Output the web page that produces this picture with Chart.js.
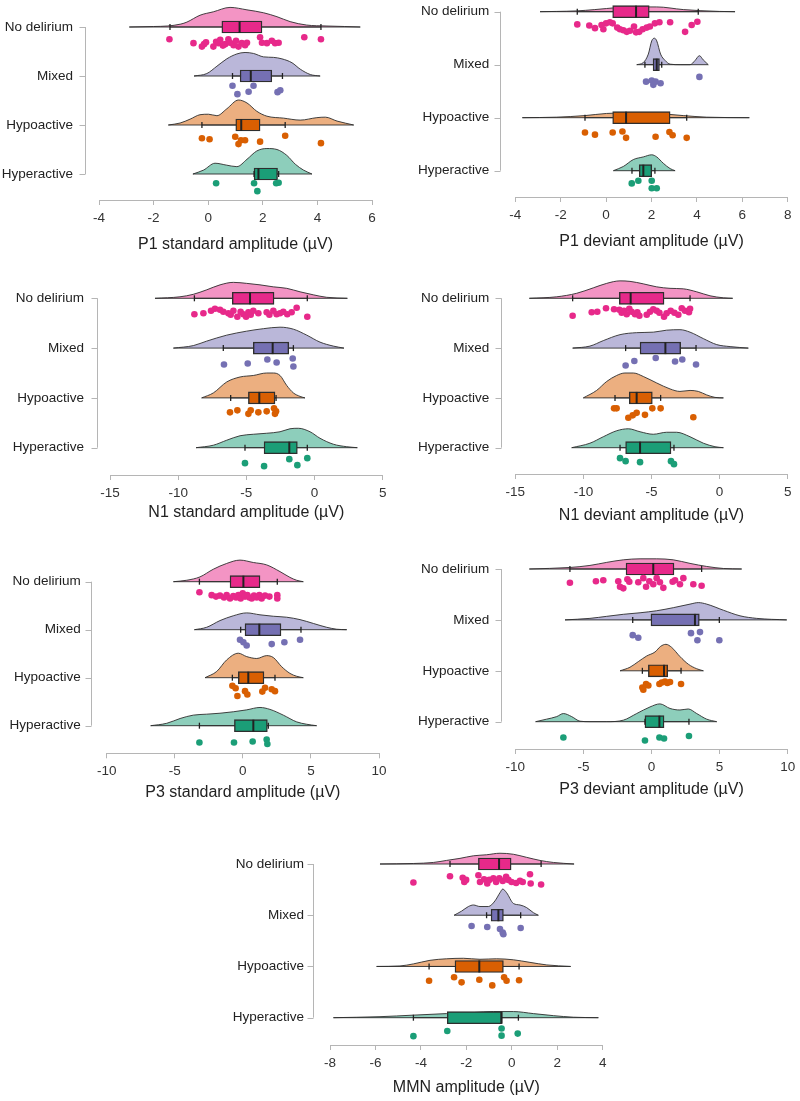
<!DOCTYPE html>
<html><head><meta charset="utf-8">
<script src="https://cdn.jsdelivr.net/npm/chart.js@4.4.1/dist/chart.umd.min.js"></script>
<style>
html,body{margin:0;padding:0;background:#fff;}
#wrap{position:relative;width:800px;height:1101px;overflow:hidden;background:#fff;}
#wrap canvas{position:absolute;}
</style></head>
<body><div id="wrap"></div>
<script>
// ---------- categories & tick labels ----------
const categories = ['No delirium', 'Mixed', 'Hypoactive', 'Hyperactive'];
const p1sXTicks = [-4, -2, 0, 2, 4, 6];
const p1dXTicks = [-4, -2, 0, 2, 4, 6, 8];
const n1sXTicks = [-15, -10, -5, 0, 5];
const n1dXTicks = [-15, -10, -5, 0, 5];
const p3sXTicks = [-10, -5, 0, 5, 10];
const p3dXTicks = [-10, -5, 0, 5, 10];
const mmnXTicks = [-8, -6, -4, -2, 0, 2, 4];

// ---------- P1 standard ----------
const p1sDensity = [
  [[-2.89,0],[-2.0,0.01],[-1.5,0.02],[-1.0,0.06],[-0.78,0.1],[-0.3,0.24],[0.19,0.31],[0.8,0.40],[1.42,0.35],[2.03,0.29],[2.52,0.21],[3.0,0.11],[3.6,0.04],[4.35,0.02],[5.0,0.01],[5.57,0]],
  [[-0.52,0],[-0.05,0.05],[0.32,0.2],[0.68,0.35],[1.05,0.45],[1.35,0.48],[1.66,0.46],[2.03,0.39],[2.39,0.38],[2.70,0.35],[3.07,0.27],[3.37,0.14],[3.74,0.03],[4.10,0]],
  [[-1.46,0],[-1.03,0.04],[-0.66,0.12],[-0.30,0.21],[0.01,0.22],[0.32,0.19],[0.68,0.33],[1.11,0.51],[1.42,0.45],[1.78,0.28],[2.15,0.18],[2.76,0.14],[3.37,0.10],[3.98,0.15],[4.29,0.16],[4.72,0.08],[5.33,0]],
  [[-0.56,0],[-0.17,0.08],[0.25,0.22],[0.68,0.18],[1.05,0.15],[1.42,0.30],[1.78,0.47],[2.15,0.52],[2.52,0.50],[2.88,0.38],[3.19,0.20],[3.49,0.08],[3.80,0]]
];
const p1sBoxes = [[-1.40,0.50,1.15,1.97,4.13],[0.89,1.17,1.56,2.33,2.72],[-0.23,1.01,1.21,1.90,2.82],[1.68,1.68,1.84,2.54,2.58]];
const p1sPoints = [
  [[-1.42,0.25],[-0.54,0.33],[-0.23,0.40],[-0.15,0.35],[-0.08,0.31],[0.19,0.40],[0.29,0.30],[0.38,0.33],[0.44,0.26],[0.54,0.38],[0.62,0.35],[0.74,0.25],[0.80,0.32],[0.93,0.37],[1.02,0.28],[1.11,0.40],[1.23,0.33],[1.35,0.37],[1.42,0.32],[1.90,0.21],[1.97,0.32],[2.15,0.33],[2.33,0.28],[2.45,0.33],[2.58,0.32],[3.52,0.21],[4.13,0.25]],
  [[0.89,0.20],[1.07,0.37],[1.48,0.32],[1.66,0.20],[2.54,0.33],[2.64,0.29]],
  [[-0.23,0.27],[0.05,0.29],[0.99,0.24],[1.11,0.39],[1.20,0.31],[1.35,0.31],[1.90,0.34],[2.82,0.22],[4.13,0.37]],
  [[0.29,0.19],[1.68,0.19],[1.80,0.35],[2.49,0.19],[2.58,0.18]]
];

// ---------- P1 deviant ----------
const p1dDensity = [
  [[-2.91,0],[-2.18,0.005],[-1.3,0.015],[-0.5,0.04],[0.02,0.06],[1.05,0.09],[2.23,0.09],[3.40,0.04],[4.14,0.02],[5.0,0.005],[5.68,0]],
  [[1.35,0],[1.64,0.04],[1.86,0.2],[2.01,0.45],[2.13,0.5],[2.23,0.45],[2.40,0.2],[2.60,0.08],[2.82,0.01],[3.26,0],[3.70,0],[3.92,0.08],[4.11,0.17],[4.28,0.09],[4.50,0]],
  [[-3.69,0],[-2.18,0.01],[-0.93,0.04],[0.02,0.08],[1.05,0.09],[2.23,0.08],[3.40,0.04],[4.43,0.01],[6.31,0]],
  [[0.32,0],[0.76,0.08],[1.20,0.21],[1.64,0.26],[2.01,0.30],[2.23,0.26],[2.52,0.14],[2.82,0.04],[3.04,0]]
];
const p1dBoxes = [[-1.27,0.29,1.32,1.90,4.06],[1.71,2.07,2.23,2.35,2.45],[-0.93,0.29,0.88,2.82,3.55],[1.14,1.46,1.64,2.01,2.15]];
const p1dPoints = [
  [[-1.27,0.24],[-0.74,0.26],[-0.49,0.31],[-0.20,0.25],[-0.12,0.33],[0.00,0.22],[0.17,0.20],[0.29,0.22],[0.49,0.30],[0.61,0.33],[0.76,0.35],[0.91,0.38],[1.05,0.36],[1.23,0.28],[1.32,0.39],[1.46,0.38],[1.61,0.33],[1.79,0.30],[1.93,0.28],[2.15,0.22],[2.35,0.20],[2.82,0.20],[3.48,0.38],[3.77,0.25],[4.02,0.19]],
  [[1.76,0.32],[2.01,0.30],[2.08,0.38],[2.18,0.32],[2.40,0.35],[4.11,0.23]],
  [[-0.93,0.28],[-0.49,0.32],[0.29,0.28],[0.72,0.26],[0.88,0.38],[2.18,0.36],[2.79,0.27],[2.93,0.33],[3.55,0.38]],
  [[1.13,0.24],[1.42,0.19],[2.01,0.19],[2.01,0.33],[2.23,0.33]]
];

// ---------- N1 standard ----------
const n1sDensity = [
  [[-11.70,0],[-9.87,0.03],[-8.89,0.08],[-7.91,0.17],[-6.93,0.27],[-5.95,0.32],[-4.98,0.30],[-4.0,0.27],[-3.02,0.23],[-2.04,0.20],[-1.06,0.13],[-0.09,0.07],[0.89,0.02],[2.41,0]],
  [[-10.35,0],[-8.89,0.05],[-7.91,0.14],[-6.44,0.26],[-4.98,0.34],[-3.75,0.39],[-2.53,0.42],[-1.55,0.38],[-0.57,0.26],[0.40,0.12],[1.38,0.04],[2.16,0]],
  [[-8.28,0],[-7.42,0.10],[-6.44,0.32],[-5.46,0.42],[-4.49,0.45],[-3.51,0.50],[-3.02,0.50],[-2.53,0.45],[-2.04,0.25],[-1.55,0.10],[-1.06,0.03],[-0.70,0]],
  [[-8.69,0],[-7.42,0.05],[-6.44,0.15],[-5.46,0.24],[-4.49,0.27],[-3.51,0.29],[-2.53,0.32],[-1.80,0.38],[-1.19,0.39],[-0.33,0.32],[0.40,0.19],[1.38,0.07],[2.36,0.02],[3.14,0]]
];
const n1sBoxes = [[-8.81,-6.03,-4.73,-2.97,-0.53],[-6.69,-4.49,-3.07,-1.89,-1.55],[-6.15,-4.85,-4.05,-2.90,-2.82],[-5.10,-3.70,-1.85,-1.26,-0.53]];
const n1sPoints = [
  [[-8.81,0.32],[-8.15,0.30],[-7.59,0.25],[-7.30,0.21],[-6.93,0.23],[-6.69,0.27],[-6.32,0.30],[-6.15,0.33],[-5.95,0.25],[-5.66,0.37],[-5.42,0.27],[-5.22,0.32],[-5.02,0.37],[-4.85,0.28],[-4.68,0.33],[-4.49,0.25],[-4.12,0.30],[-3.51,0.28],[-3.31,0.33],[-3.02,0.25],[-2.78,0.32],[-2.53,0.30],[-2.29,0.27],[-2.0,0.32],[-1.68,0.28],[-1.31,0.19],[-0.53,0.37]],
  [[-6.64,0.33],[-4.90,0.31],[-3.46,0.23],[-2.78,0.29],[-1.60,0.21],[-1.55,0.37]],
  [[-6.20,0.29],[-5.66,0.25],[-4.85,0.32],[-4.68,0.25],[-4.12,0.29],[-3.51,0.27],[-2.97,0.21],[-2.90,0.32],[-2.82,0.27]],
  [[-5.10,0.31],[-3.70,0.37],[-1.85,0.23],[-1.26,0.35],[-0.53,0.21]]
];

// ---------- N1 deviant ----------
const n1dDensity = [
  [[-13.97,0],[-11.96,0.03],[-10.50,0.10],[-9.27,0.21],[-8.29,0.30],[-7.31,0.35],[-6.58,0.34],[-5.60,0.29],[-4.62,0.23],[-3.64,0.20],[-2.66,0.19],[-1.68,0.13],[-0.70,0.05],[0.28,0.01],[0.96,0]],
  [[-10.79,0],[-9.52,0.04],[-8.54,0.15],[-7.31,0.27],[-6.09,0.31],[-4.87,0.32],[-3.89,0.36],[-2.91,0.37],[-2.17,0.32],[-1.19,0.19],[-0.21,0.07],[0.77,0.03],[2.11,0]],
  [[-10.01,0],[-9.03,0.15],[-8.29,0.33],[-7.56,0.45],[-6.95,0.50],[-6.33,0.50],[-5.60,0.43],[-4.62,0.30],[-3.64,0.18],[-2.91,0.13],[-2.17,0.15],[-1.56,0.13],[-0.95,0.06],[-0.34,0.01],[0.28,0]],
  [[-10.86,0],[-9.52,0.09],[-8.54,0.22],[-7.56,0.34],[-6.70,0.38],[-5.84,0.32],[-4.87,0.27],[-3.89,0.31],[-3.15,0.31],[-2.17,0.22],[-1.19,0.09],[-0.34,0.02],[0.28,0]]
];
const n1dBoxes = [[-10.79,-7.36,-6.53,-4.08,-2.17],[-6.90,-5.84,-3.98,-2.86,-1.73],[-7.68,-6.63,-6.09,-4.94,-4.33],[-7.31,-6.90,-5.84,-3.57,-3.35]];
const n1dPoints = [
  [[-10.79,0.35],[-9.39,0.28],[-8.98,0.27],[-8.34,0.20],[-7.75,0.22],[-7.36,0.23],[-7.19,0.29],[-7.02,0.25],[-6.82,0.32],[-6.63,0.21],[-6.46,0.27],[-6.21,0.32],[-6.04,0.28],[-5.89,0.35],[-5.35,0.33],[-5.11,0.27],[-4.87,0.22],[-4.62,0.25],[-4.42,0.29],[-4.08,0.37],[-3.89,0.30],[-3.59,0.25],[-3.32,0.29],[-3.03,0.33],[-2.78,0.20],[-2.54,0.25],[-2.25,0.28],[-2.17,0.21]],
  [[-6.90,0.35],[-6.26,0.26],[-4.69,0.20],[-3.27,0.27],[-2.74,0.23],[-1.73,0.33]],
  [[-7.75,0.21],[-7.56,0.21],[-6.70,0.40],[-6.38,0.35],[-6.09,0.30],[-5.48,0.34],[-4.94,0.21],[-4.33,0.21],[-1.93,0.39]],
  [[-7.31,0.21],[-6.90,0.27],[-5.84,0.29],[-3.57,0.27],[-3.35,0.33]]
];

// ---------- P3 standard ----------
const p3sDensity = [
  [[-5.10,0],[-4.12,0.03],[-3.15,0.10],[-2.17,0.26],[-1.19,0.38],[-0.21,0.45],[0.77,0.40],[1.75,0.35],[2.73,0.21],[3.46,0.09],[3.95,0.03],[4.44,0]],
  [[-3.56,0],[-2.66,0.05],[-1.68,0.19],[-0.70,0.29],[0.28,0.35],[1.26,0.31],[2.24,0.28],[3.22,0.26],[4.20,0.21],[5.18,0.13],[6.16,0.05],[6.89,0.01],[7.63,0]],
  [[-2.78,0],[-1.92,0.13],[-1.19,0.37],[-0.33,0.51],[0.28,0.44],[1.02,0.40],[1.75,0.46],[2.24,0.42],[2.85,0.23],[3.46,0.09],[3.95,0.03],[4.44,0]],
  [[-6.77,0],[-5.59,0.05],[-4.61,0.15],[-3.64,0.22],[-2.66,0.24],[-1.68,0.26],[-0.70,0.29],[0.28,0.33],[1.26,0.38],[1.99,0.34],[2.97,0.22],[3.95,0.08],[4.69,0.03],[5.42,0]]
];
const p3sBoxes = [[-3.19,-0.94,0.04,1.26,2.53],[-0.16,0.16,1.21,2.80,4.27],[-0.77,-0.33,0.40,1.55,2.36],[-3.19,-0.62,0.77,1.80,1.87]];
const p3sPoints = [
  [[-3.19,0.22],[-2.29,0.28],[-1.97,0.31],[-1.68,0.29],[-1.38,0.33],[-1.19,0.28],[-0.94,0.35],[-0.70,0.30],[-0.50,0.33],[-0.33,0.28],[-0.16,0.35],[-0.01,0.24],[0.16,0.31],[0.33,0.28],[0.48,0.33],[0.65,0.35],[0.82,0.29],[1.02,0.33],[1.21,0.28],[1.38,0.35],[1.63,0.29],[1.95,0.31],[2.53,0.28],[2.53,0.35]],
  [[-0.21,0.21],[0.04,0.26],[0.28,0.33],[2.12,0.30],[3.05,0.26],[4.20,0.21]],
  [[-0.77,0.17],[-0.53,0.22],[-0.40,0.38],[0.16,0.28],[0.33,0.35],[1.43,0.29],[1.63,0.21],[2.12,0.24],[2.36,0.28]],
  [[-3.19,0.35],[-0.65,0.35],[0.72,0.33],[1.75,0.29],[1.80,0.38]]
];

// ---------- P3 deviant ----------
const p3dDensity = [
  [[-8.97,0],[-5.99,0.03],[-4.52,0.07],[-3.29,0.13],[-2.07,0.18],[-0.84,0.20],[0.38,0.20],[1.60,0.18],[2.83,0.11],[4.05,0.05],[5.28,0.01],[6.62,0]],
  [[-6.35,0],[-4.52,0.03],[-3.29,0.07],[-2.07,0.11],[-0.84,0.14],[0.38,0.18],[1.60,0.24],[2.83,0.31],[3.44,0.34],[4.05,0.31],[5.28,0.19],[6.50,0.08],[7.72,0.03],[9.93,0]],
  [[-2.31,0],[-1.58,0.07],[-0.97,0.18],[-0.36,0.29],[0.26,0.37],[0.67,0.48],[1.06,0.52],[1.48,0.46],[2.09,0.28],[2.70,0.13],[3.32,0.04],[3.81,0]],
  [[-8.51,0],[-7.70,0.05],[-6.96,0.10],[-6.47,0.16],[-5.86,0.10],[-5.25,0.01],[-4.52,0],[-3.29,0],[-2.07,0.03],[-1.09,0.16],[-0.11,0.29],[0.62,0.35],[1.36,0.26],[2.09,0.23],[2.70,0.25],[3.32,0.16],[4.05,0.05],[4.79,0]]
];
const p3dBoxes = [[-5.99,-1.87,0.13,1.65,3.68],[-1.38,-0.04,3.19,3.51,4.98],[-0.67,-0.23,0.92,1.19,2.17],[-0.48,-0.48,0.58,0.92,2.75]];
const p3dPoints = [
  [[-5.99,0.27],[-4.08,0.24],[-3.54,0.22],[-2.44,0.24],[-2.31,0.35],[-2.07,0.38],[-1.77,0.20],[-1.63,0.25],[-0.97,0.26],[-0.60,0.18],[-0.40,0.35],[-0.16,0.24],[0.13,0.30],[0.38,0.18],[0.62,0.26],[0.87,0.37],[1.55,0.25],[1.73,0.22],[2.09,0.30],[2.34,0.18],[3.07,0.30],[3.68,0.33]],
  [[-1.38,0.30],[-0.97,0.35],[2.90,0.26],[3.56,0.24],[3.37,0.40],[4.98,0.40]],
  [[-0.67,0.33],[-0.60,0.37],[-0.40,0.26],[-0.23,0.29],[0.58,0.26],[0.75,0.23],[0.99,0.21],[1.16,0.24],[1.36,0.22],[2.17,0.26]],
  [[-6.47,0.31],[-0.48,0.37],[0.58,0.31],[0.92,0.33],[2.75,0.28]]
];

// ---------- MMN ----------
const mmnDensity = [
  [[-5.80,0],[-4.33,0.01],[-3.45,0.03],[-2.87,0.07],[-2.28,0.11],[-1.69,0.16],[-1.11,0.18],[-0.52,0.21],[0.07,0.19],[0.65,0.13],[1.24,0.07],[1.83,0.03],[2.74,0]],
  [[-2.54,0],[-2.21,0.08],[-1.91,0.17],[-1.69,0.20],[-1.40,0.17],[-1.03,0.17],[-0.74,0.28],[-0.52,0.44],[-0.40,0.51],[-0.23,0.44],[0.07,0.23],[0.36,0.20],[0.65,0.15],[0.95,0.05],[1.17,0]],
  [[-5.95,0],[-4.92,0.01],[-4.33,0.05],[-3.60,0.12],[-2.87,0.15],[-2.13,0.16],[-1.40,0.14],[-0.67,0.15],[0.07,0.13],[0.80,0.08],[1.54,0.03],[2.59,0]],
  [[-7.85,0],[-5.80,0.02],[-4.33,0.05],[-2.87,0.08],[-1.69,0.10],[-0.81,0.12],[0.07,0.12],[0.95,0.08],[1.83,0.04],[2.71,0.01],[3.81,0]]
];
const mmnBoxes = [[-2.72,-1.47,-0.56,-0.03,1.29],[-1.11,-0.91,-0.59,-0.37,0.39],[-3.64,-2.50,-1.43,-0.37,0.32],[-4.33,-2.84,-0.45,-0.45,0.29]];
const mmnPoints = [
  [[-4.33,0.36],[-2.72,0.24],[-2.16,0.27],[-2.09,0.35],[-2.01,0.31],[-1.47,0.22],[-1.40,0.35],[-1.22,0.30],[-1.08,0.38],[-0.99,0.31],[-0.81,0.28],[-0.69,0.35],[-0.55,0.28],[-0.40,0.33],[-0.25,0.25],[-0.15,0.31],[-0.01,0.35],[0.19,0.37],[0.36,0.33],[0.48,0.35],[0.80,0.20],[0.83,0.38],[1.29,0.40]],
  [[-1.77,0.21],[-1.08,0.23],[-0.52,0.27],[-0.40,0.34],[-0.37,0.37],[0.39,0.25]],
  [[-3.64,0.28],[-2.54,0.21],[-2.21,0.31],[-1.43,0.26],[-0.86,0.37],[-0.34,0.21],[-0.23,0.28],[0.32,0.27]],
  [[-4.33,0.36],[-2.84,0.26],[-0.45,0.21],[-0.45,0.35],[0.26,0.31]]
];

// ---------- styles ----------
const groupColors = ['#E7298A', '#7570B3', '#D95F02', '#1B9E77'];
const densityFills = ['rgba(231,41,138,0.5)', 'rgba(117,112,179,0.5)', 'rgba(217,95,2,0.5)', 'rgba(27,158,119,0.5)'];
const outline = '#2e2e2e';
const axisGray = '#b5b5b5';
const FONT = "'Liberation Sans', Arial, Helvetica, sans-serif";

// ---------- panel layout ----------
const panels = [
  {title:'P1 standard amplitude (\u00b5V)', ticks:p1sXTicks, density:p1sDensity, boxes:p1sBoxes, points:p1sPoints, left:99, right:372, axisY:200, rowTop:27, rowBottom:174, titleY:244, yLineX:85, canvasLeft:0},
  {title:'P1 deviant amplitude (\u00b5V)', ticks:p1dXTicks, density:p1dDensity, boxes:p1dBoxes, points:p1dPoints, left:515.3, right:787.7, axisY:197, rowTop:11.7, rowBottom:170.7, titleY:241, yLineX:500, canvasLeft:390},
  {title:'N1 standard amplitude (\u00b5V)', ticks:n1sXTicks, density:n1sDensity, boxes:n1sBoxes, points:n1sPoints, left:110, right:382.7, axisY:475, rowTop:298.3, rowBottom:447.7, titleY:512, yLineX:96.7, canvasLeft:0},
  {title:'N1 deviant amplitude (\u00b5V)', ticks:n1dXTicks, density:n1dDensity, boxes:n1dBoxes, points:n1dPoints, left:515.3, right:787.7, axisY:474, rowTop:298.3, rowBottom:447.7, titleY:515, yLineX:501, canvasLeft:390},
  {title:'P3 standard amplitude (\u00b5V)', ticks:p3sXTicks, density:p3sDensity, boxes:p3sBoxes, points:p3sPoints, left:106.7, right:379, axisY:753.3, rowTop:581.7, rowBottom:725.7, titleY:792, yLineX:90.7, canvasLeft:0},
  {title:'P3 deviant amplitude (\u00b5V)', ticks:p3dXTicks, density:p3dDensity, boxes:p3dBoxes, points:p3dPoints, left:515.3, right:787.7, axisY:749, rowTop:569, rowBottom:721.7, titleY:789, yLineX:501, canvasLeft:390},
  {title:'MMN amplitude (\u00b5V)', ticks:mmnXTicks, density:mmnDensity, boxes:mmnBoxes, points:mmnPoints, left:330, right:602.7, axisY:1045, rowTop:864, rowBottom:1017.7, titleY:1087, yLineX:313.3, canvasLeft:200}
];

const yAxisLine = {
  id: 'yAxisLine',
  beforeDatasetsDraw(chart, args, opts) {
    const {ctx, chartArea} = chart;
    const y = chart.scales.y;
    const x = Math.round(chartArea.left - opts.gap) + 0.5;
    const t = y.getPixelForValue(categories.length - 1);
    const b = y.getPixelForValue(0);
    ctx.save();
    ctx.strokeStyle = axisGray;
    ctx.lineWidth = 1;
    ctx.beginPath();
    ctx.moveTo(x, t); ctx.lineTo(x, b);
    for (let i = 0; i < categories.length; i++) {
      const py = Math.round(y.getPixelForValue(i)) + 0.5;
      ctx.moveTo(x - 6, py); ctx.lineTo(x, py);
    }
    ctx.stroke();
    ctx.restore();
  }
};

const wrap = document.getElementById('wrap');
const PT = 40;

panels.forEach(p => {
  const n = categories.length;
  const s = (p.rowBottom - p.rowTop) / (n - 1);
  const canvasTop = Math.round(p.rowTop - 32 - PT);
  const chartTop = canvasTop + PT;
  const ymax = (n - 1) + (p.rowTop - chartTop) / s;
  const ymin = -(p.axisY - p.rowBottom) / s;
  const hx0 = p.titleY + 9.6 - p.axisY;
  const H = Math.round(p.axisY - canvasTop + hx0);
  const hx = H - (p.axisY - canvasTop);
  const yw = p.left - p.canvasLeft;
  const W = Math.round(p.right - p.canvasLeft + 14);
  const pr = W - (p.right - p.canvasLeft);

  const cv = document.createElement('canvas');
  cv.width = W; cv.height = H;
  cv.style.left = p.canvasLeft + 'px';
  cv.style.top = canvasTop + 'px';
  cv.style.width = W + 'px'; cv.style.height = H + 'px';
  wrap.appendChild(cv);

  const datasets = [];
  categories.forEach((c, g) => {
    const row = n - 1 - g;
    const dens = p.density[g];
    datasets.push({
      type: 'line', label: c + ' density',
      data: dens.map(([x, h]) => ({x, y: row + h})),
      fill: {value: row}, backgroundColor: densityFills[g],
      borderColor: outline, borderWidth: 0.9, pointRadius: 0,
      cubicInterpolationMode: 'monotone', order: 10, clip: false
    });
    datasets.push({
      type: 'line', label: c + ' base',
      data: [{x: dens[0][0], y: row}, {x: dens[dens.length - 1][0], y: row}],
      borderColor: outline, borderWidth: 0.9, pointRadius: 0, fill: false, order: 9, clip: false
    });
    const b = p.boxes[g];
    datasets.push({
      type: 'line', label: c + ' whisker',
      data: [{x: b[0], y: row}, {x: b[4], y: row}],
      borderColor: outline, borderWidth: 1, pointRadius: 0, fill: false, order: 8, clip: false
    });
    datasets.push({
      type: 'scatter', label: c + ' points',
      data: p.points[g].map(([x, dy]) => ({x, y: row - dy})),
      pointRadius: 3.3, pointBackgroundColor: groupColors[g], pointBorderWidth: 0,
      order: 1, clip: false
    });
  });
  datasets.push({
    type: 'bar', indexAxis: 'y', label: 'IQR',
    data: p.boxes.map((b, g) => ({x: [b[1], b[3]], y: n - 1 - g})),
    backgroundColor: groupColors, borderColor: outline, borderWidth: 1.4,
    borderSkipped: false, barThickness: 12, grouped: false, order: 5, clip: false
  });
  datasets.push({
    type: 'scatter', label: 'median',
    data: p.boxes.map((b, g) => ({x: b[2], y: n - 1 - g})),
    pointStyle: 'line', pointRotation: 90, pointRadius: 6,
    pointBorderColor: '#222', pointBorderWidth: 2, order: 3, clip: false
  });
  datasets.push({
    type: 'scatter', label: 'caps',
    data: p.boxes.flatMap((b, g) => [{x: b[0], y: n - 1 - g}, {x: b[4], y: n - 1 - g}]),
    pointStyle: 'line', pointRotation: 90, pointRadius: 3,
    pointBorderColor: '#222', pointBorderWidth: 1.3, order: 2, clip: false
  });

  new Chart(cv, {
    type: 'scatter',
    data: {datasets},
    plugins: [yAxisLine],
    options: {
      responsive: false, animation: false, events: [],
      layout: {padding: {left: 0, right: pr, top: PT, bottom: 0}},
      plugins: {legend: {display: false}, tooltip: {enabled: false}, yAxisLine: {gap: p.left - p.yLineX}},
      scales: {
        x: {
          type: 'linear', position: 'bottom', offset: false,
          min: p.ticks[0], max: p.ticks[p.ticks.length - 1],
          afterBuildTicks: sc => { sc.ticks = p.ticks.map(v => ({value: v})); },
          afterFit: sc => { sc.height = hx; },
          ticks: {autoSkip: false, maxRotation: 0, padding: 5, color: '#333', font: {family: FONT, size: 13.5}, callback: v => String(v)},
          grid: {drawOnChartArea: false, drawTicks: true, tickLength: 5, color: axisGray, offset: false},
          border: {display: true, color: axisGray, width: 1},
          title: {display: true, text: p.title, color: '#222', font: {family: FONT, size: 16}, padding: {top: 0, bottom: 0}}
        },
        y: {
          type: 'linear', position: 'left', offset: false,
          min: ymin, max: ymax,
          afterBuildTicks: sc => { sc.ticks = categories.map((c, i) => ({value: n - 1 - i})); },
          afterFit: sc => { sc.width = yw; },
          ticks: {autoSkip: false, padding: 26, color: '#222', font: {family: FONT, size: 13.5}, callback: v => categories[n - 1 - v]},
          grid: {display: false, drawTicks: false, offset: false},
          border: {display: false}
        }
      }
    }
  });
});
</script>
</body></html>
